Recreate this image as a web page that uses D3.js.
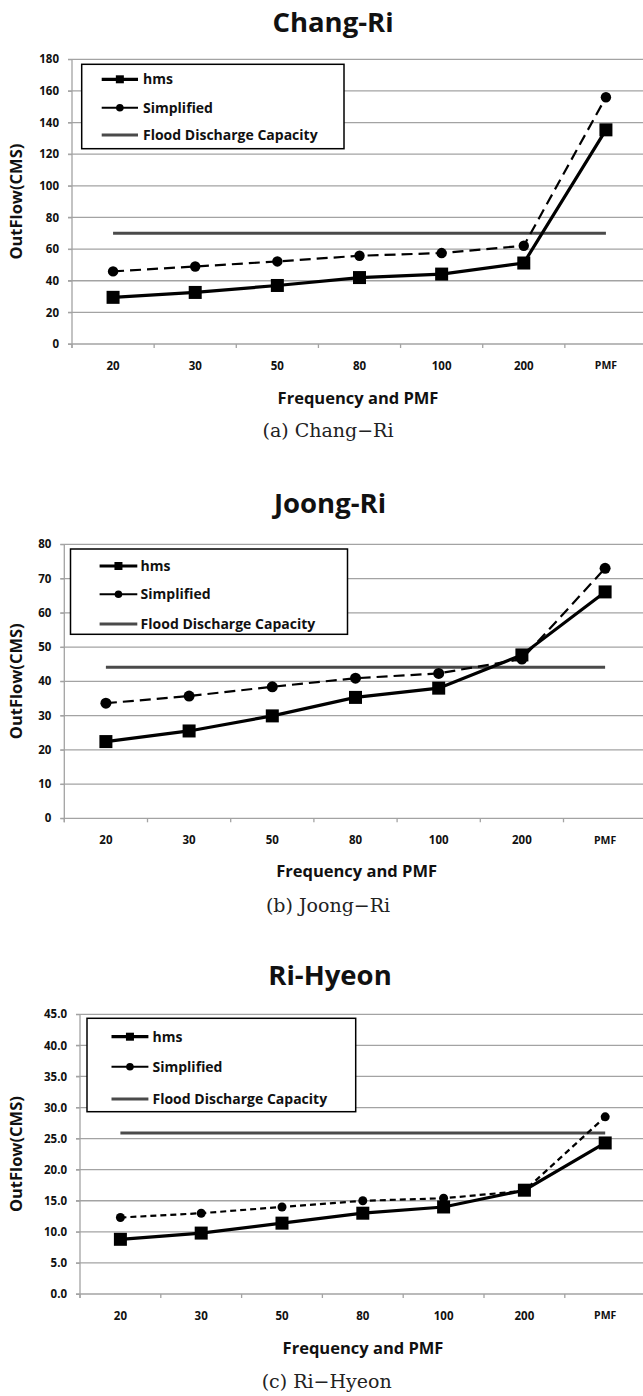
<!DOCTYPE html>
<html>
<head>
<meta charset="utf-8">
<script src="https://cdn.jsdelivr.net/npm/d3@7"></script>
<style>
  body { margin: 0; background: #fff; }
  svg { display: block; }
  text { font-family: "Open Sans", sans-serif; }
</style>
</head>
<body>
<svg id="chart" width="643" height="1396"></svg>
<script>
// frequencies on the x axis
let categories = ['20', '30', '50', '80', '100', '200', 'PMF'];

// Chang-Ri
let changHms = [29.5, 32.6, 37, 42, 44.2, 51.2, 135.4];
let changSimplified = [45.9, 49, 52.2, 55.8, 57.5, 62.1, 156];
let changFlood = 70;
let changTicks = [0, 20, 40, 60, 80, 100, 120, 140, 160, 180];

// Joong-Ri
let joongHms = [22.4, 25.5, 29.9, 35.3, 38, 47.7, 66.1];
let joongSimplified = [33.6, 35.7, 38.4, 40.9, 42.3, 46.5, 73];
let joongFlood = 44.1;
let joongTicks = [0, 10, 20, 30, 40, 50, 60, 70, 80];

// Ri-Hyeon
let hyeonHms = [8.8, 9.8, 11.4, 13.0, 14.0, 16.7, 24.3];
let hyeonSimplified = [12.3, 13.0, 14.0, 15.0, 15.4, 16.6, 28.5];
let hyeonFlood = 25.9;
let hyeonTicks = [0, 5, 10, 15, 20, 25, 30, 35, 40, 45];

let legendNames = ['hms', 'Simplified', 'Flood Discharge Capacity'];

let panels = [
  {
    title: 'Chang-Ri', caption: '(a) Chang\u2212Ri',
    hms: changHms, simplified: changSimplified, flood: changFlood, ticks: changTicks, fmt: d3.format('d'),
    left: 72, right: 647, top: 59.3, bottom: 344,
    titleX: 333, titleY: 22, xTitleX: 358, xTitleY: 398, capX: 328, capY: 430, yTitleX: 16,
    legend: { x0: 81.7, y0: 64.3, x1: 344, y1: 148.7, rows: [79.3, 107.7, 135], s0: 101.7, s1: 138, tx: 143 },
    dash: '11,6', legendDash: null, circleR: 5.2
  },
  {
    title: 'Joong-Ri', caption: '(b) Joong\u2212Ri',
    hms: joongHms, simplified: joongSimplified, flood: joongFlood, ticks: joongTicks, fmt: d3.format('d'),
    left: 64.3, right: 646.7, top: 544.3, bottom: 818.3,
    titleX: 330, titleY: 503, xTitleX: 356.6, xTitleY: 871.7, capX: 328, capY: 905, yTitleX: 16,
    legend: { x0: 70.5, y0: 549, x1: 347.5, y1: 634.3, rows: [566, 594.3, 624], s0: 99.6, s1: 137.3, tx: 140.6 },
    dash: '11,6', legendDash: null, circleR: 5.5
  },
  {
    title: 'Ri-Hyeon', caption: '(c) Ri\u2212Hyeon',
    hms: hyeonHms, simplified: hyeonSimplified, flood: hyeonFlood, ticks: hyeonTicks, fmt: d3.format('.1f'),
    left: 80, right: 645.6, top: 1014.3, bottom: 1294,
    titleX: 330, titleY: 975, xTitleX: 363, xTitleY: 1348, capX: 326.7, capY: 1381.7, yTitleX: 16,
    legend: { x0: 87, y0: 1018.3, x1: 355.7, y1: 1111.7, rows: [1036.7, 1066.7, 1099], s0: 111.5, s1: 148.4, tx: 152.5 },
    dash: '6,4', legendDash: '8,5,11,5,8', circleR: 4.5
  }
];

let svg = d3.select('#chart');
let gridColor = '#a3a3a3';
let floodColor = '#4a4a4a';

panels.forEach(drawPanel);

function drawPanel(p) {
  let g = svg.append('g');

  let x = d3.scaleBand().domain(categories).range([p.left, p.right]);
  let y = d3.scaleLinear().domain([0, d3.max(p.ticks)]).range([p.bottom, p.top]);
  let cx = function(d, i) { return x(categories[i]) + x.bandwidth() / 2; };

  // gridlines
  g.selectAll('line.grid')
    .data(p.ticks)
    .join('line')
    .attr('x1', p.left - 4)
    .attr('x2', p.right)
    .attr('y1', d => y(d))
    .attr('y2', d => y(d))
    .style('stroke', gridColor)
    .style('stroke-width', 1.3);

  // y axis
  let yAxis = g.append('g')
    .attr('transform', 'translate(' + p.left + ',0)')
    .call(d3.axisLeft(y).tickValues(p.ticks).tickFormat(p.fmt).tickSize(4).tickPadding(9));
  yAxis.select('.domain').attr('d', 'M0,' + p.top + 'V' + (p.bottom + 4)).style('stroke', gridColor).style('stroke-width', 1.3);
  yAxis.selectAll('.tick line').style('stroke', gridColor);
  yAxis.selectAll('text').style('font-size', '11.5px').style('font-weight', 700).style('fill', '#111');

  // x axis labels
  let xAxis = g.append('g')
    .attr('transform', 'translate(0,' + p.bottom + ')')
    .call(d3.axisBottom(x).tickSize(0).tickPadding(18));
  xAxis.select('.domain').remove();
  xAxis.selectAll('text').style('font-size', '11.5px').style('font-weight', 700).style('fill', '#111');
  xAxis.selectAll('.tick').filter(d => d === 'PMF').select('text').style('font-size', '10.5px');

  // x tick marks at category boundaries
  g.selectAll('line.xtick')
    .data(categories)
    .join('line')
    .attr('x1', d => x(d))
    .attr('x2', d => x(d))
    .attr('y1', p.bottom)
    .attr('y2', p.bottom + 4)
    .style('stroke', gridColor)
    .style('stroke-width', 1.3);

  // flood discharge capacity
  g.append('line')
    .attr('x1', cx(null, 0))
    .attr('x2', cx(null, categories.length - 1))
    .attr('y1', y(p.flood))
    .attr('y2', y(p.flood))
    .style('stroke', floodColor)
    .style('stroke-width', 3);

  let line = d3.line().x(cx).y(d => y(d));

  // simplified
  g.append('path')
    .attr('d', line(p.simplified))
    .style('fill', 'none')
    .style('stroke', '#000')
    .style('stroke-width', 2.2)
    .style('stroke-dasharray', p.dash);
  g.selectAll('circle.simp')
    .data(p.simplified)
    .join('circle')
    .attr('cx', cx)
    .attr('cy', d => y(d))
    .attr('r', p.circleR)
    .style('fill', '#000');

  // hms
  g.append('path')
    .attr('d', line(p.hms))
    .style('fill', 'none')
    .style('stroke', '#000')
    .style('stroke-width', 3.2);
  g.selectAll('rect.hms')
    .data(p.hms)
    .join('rect')
    .attr('x', (d, i) => cx(d, i) - 6.5)
    .attr('y', d => y(d) - 6.5)
    .attr('width', 13)
    .attr('height', 13)
    .style('fill', '#000');

  // legend
  let L = p.legend;
  g.append('rect')
    .attr('x', L.x0).attr('y', L.y0)
    .attr('width', L.x1 - L.x0).attr('height', L.y1 - L.y0)
    .style('fill', '#fff')
    .style('stroke', '#000')
    .style('stroke-width', 1.5);
  let mid = (L.s0 + L.s1) / 2;
  g.append('line').attr('x1', L.s0).attr('x2', L.s1).attr('y1', L.rows[0]).attr('y2', L.rows[0])
    .style('stroke', '#000').style('stroke-width', 3.2);
  g.append('rect').attr('x', mid - 4).attr('y', L.rows[0] - 4).attr('width', 8).attr('height', 8).style('fill', '#000');
  g.append('line').attr('x1', L.s0).attr('x2', L.s1).attr('y1', L.rows[1]).attr('y2', L.rows[1])
    .style('stroke', '#000').style('stroke-width', L.legendDash ? 2.4 : 2)
    .style('stroke-dasharray', L.legendDash);
  g.append('circle').attr('cx', mid).attr('cy', L.rows[1]).attr('r', 3.8).style('fill', '#000');
  g.append('line').attr('x1', L.s0).attr('x2', L.s1).attr('y1', L.rows[2]).attr('y2', L.rows[2])
    .style('stroke', floodColor).style('stroke-width', 3);
  g.selectAll('text.leg')
    .data(legendNames)
    .join('text')
    .attr('x', L.tx)
    .attr('y', (d, i) => L.rows[i])
    .attr('dy', '0.35em')
    .style('font-size', '14px')
    .style('font-weight', 700)
    .style('fill', '#111')
    .text(d => d);

  // titles
  g.append('text')
    .attr('x', p.titleX).attr('y', p.titleY).attr('dy', '0.35em')
    .attr('text-anchor', 'middle')
    .style('font-size', '27.5px').style('font-weight', 700).style('fill', '#111')
    .text(p.title);
  g.append('text')
    .attr('x', p.xTitleX).attr('y', p.xTitleY).attr('dy', '0.35em')
    .attr('text-anchor', 'middle')
    .style('font-size', '16.5px').style('font-weight', 700).style('fill', '#111')
    .text('Frequency and PMF');
  g.append('text')
    .attr('transform', 'translate(' + p.yTitleX + ',' + ((p.top + p.bottom) / 2) + ') rotate(-90)')
    .attr('dy', '0.35em')
    .attr('text-anchor', 'middle')
    .style('font-size', '16.5px').style('font-weight', 700).style('fill', '#111')
    .text('OutFlow(CMS)');
  g.append('text')
    .attr('x', p.capX).attr('y', p.capY).attr('dy', '0.35em')
    .attr('text-anchor', 'middle')
    .style('font-family', '"DejaVu Serif", serif')
    .style('font-size', '19px').style('fill', '#222')
    .text(p.caption);
}
</script>
</body>
</html>
